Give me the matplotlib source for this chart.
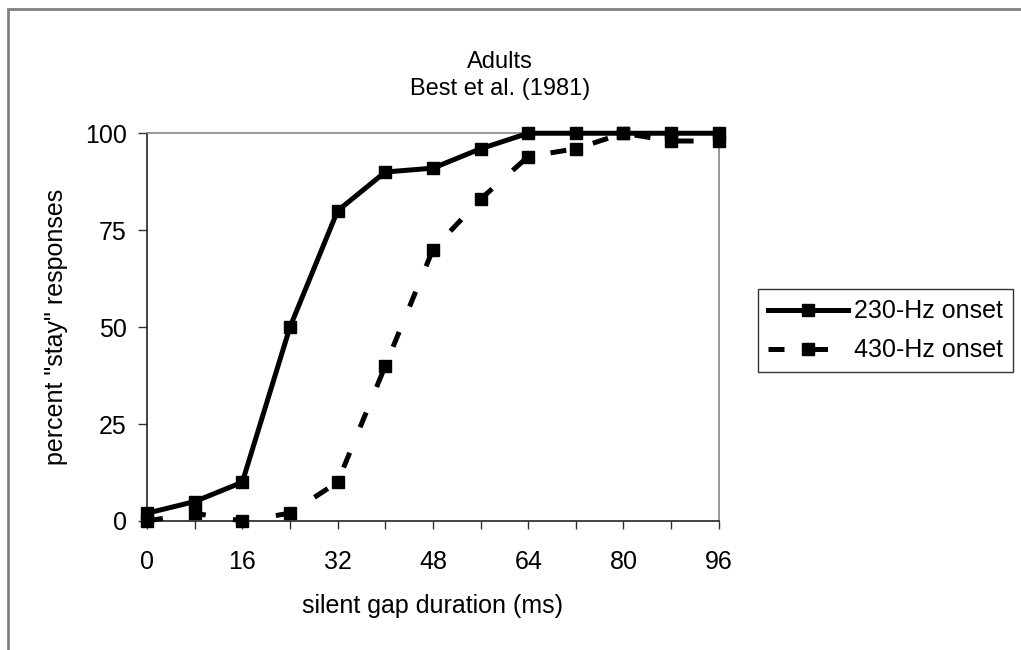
import matplotlib
matplotlib.use("Agg")
import matplotlib.pyplot as plt
from matplotlib.patches import Rectangle
from matplotlib.ticker import MultipleLocator

plt.rcParams['font.family'] = ['Liberation Sans', 'DejaVu Sans']

gap_ms = [0, 8, 16, 24, 32, 40, 48, 56, 64, 72, 80, 88, 96]
onset_230 = [2, 5, 10, 50, 80, 90, 91, 96, 100, 100, 100, 100, 100]
onset_430 = [0, 2, 0, 2, 10, 40, 70, 83, 94, 96, 100, 98, 98]

FS = 18

fig = plt.figure(figsize=(10.21, 6.5), dpi=100)
ax = fig.add_axes([0.144, 0.1985, 0.560, 0.5965])

ax.plot(gap_ms, onset_230, color='black', lw=3.6, marker='s', ms=8.5,
        clip_on=False, zorder=3, label='230-Hz onset')
ax.plot(gap_ms, onset_430, color='black', lw=3.6, ls=(0, (3.2, 5.5)),
        marker='s', ms=8.5, clip_on=False, zorder=3, label='430-Hz onset')

ax.set_xlim(0, 96)
ax.set_ylim(0, 100)
ax.xaxis.set_major_locator(MultipleLocator(16))
ax.xaxis.set_minor_locator(MultipleLocator(8))
ax.yaxis.set_major_locator(MultipleLocator(25))
ax.tick_params(axis='both', which='both', direction='out', color='#333333',
               labelsize=FS, width=1)
ax.tick_params(axis='x', which='both', length=6, pad=15)
ax.tick_params(axis='y', which='major', length=6.5, pad=8)

for side in ('left', 'bottom'):
    ax.spines[side].set_color('#222222')
    ax.spines[side].set_linewidth(1.2)
for side in ('top', 'right'):
    ax.spines[side].set_color('#888888')
    ax.spines[side].set_linewidth(1.2)

# chart title, centred over the whole chart area
fig.text(0.49, 0.884, 'Adults\nBest et al. (1981)', fontsize=FS - 1,
         ha='center', va='center', linespacing=1.3)
ax.set_xlabel('silent gap duration (ms)', fontsize=FS, labelpad=14)
ax.set_ylabel('percent "stay" responses', fontsize=FS, labelpad=12)

leg = ax.legend(loc='center left', bbox_to_anchor=(1.068, 0.49), fontsize=FS,
                frameon=True, fancybox=False, edgecolor='black',
                handlelength=3.2, handletextpad=0.25, borderpad=0.4,
                labelspacing=0.6, borderaxespad=0)
leg.get_frame().set_linewidth(1.0)

fig.patches.append(Rectangle((8 / 1021, -0.05), 1.1, 1.05 - 9 / 650,
                             transform=fig.transFigure, fill=False,
                             edgecolor='#808080', lw=2, zorder=0))

fig.savefig('out.png', dpi=100)
